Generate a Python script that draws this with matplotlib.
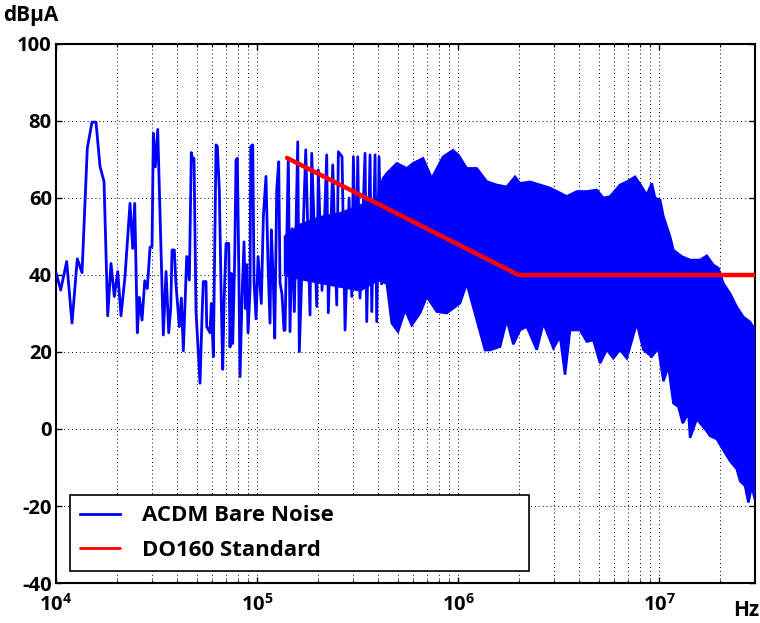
import numpy as np
import matplotlib
matplotlib.use('Agg')
import matplotlib.pyplot as plt
from matplotlib.ticker import LogLocator, NullFormatter

plt.rcParams['font.family'] = ['Open Sans', 'DejaVu Sans']
plt.rcParams['font.weight'] = 'bold'
plt.rcParams['axes.unicode_minus'] = False

# ACDM bare noise - sparse low-frequency part (Hz, dBuA)
sparse_freq = [1.000e4, 1.055e4, 1.130e4, 1.201e4, 1.276e4, 1.347e4, 1.431e4, 1.510e4,
               1.581e4, 1.655e4, 1.733e4, 1.808e4, 1.877e4, 1.950e4, 2.028e4, 2.105e4,
               2.204e4, 2.334e4, 2.407e4, 2.463e4, 2.538e4, 2.597e4, 2.679e4, 2.763e4,
               2.846e4, 2.936e4, 3.004e4, 3.049e4, 3.119e4, 3.206e4, 3.419e4, 3.526e4,
               3.637e4, 3.721e4, 3.777e4, 3.878e4, 3.954e4, 4.107e4, 4.202e4, 4.299e4,
               4.469e4, 4.605e4, 4.711e4, 4.787e4, 4.859e4, 4.971e4, 5.204e4, 5.325e4,
               5.405e4, 5.575e4, 5.620e4, 5.837e4, 5.924e4, 6.062e4, 6.252e4, 6.346e4,
               6.493e4, 6.643e4, 6.751e4, 6.852e4, 7.011e4, 7.231e4, 7.340e4, 7.449e4,
               7.570e4, 7.746e4, 7.862e4, 7.980e4, 8.110e4, 8.231e4, 8.422e4, 8.617e4,
               8.747e4, 8.889e4, 9.021e4, 9.230e4, 9.305e4, 9.520e4, 9.663e4, 9.886e4,
               1.012e5, 1.050e5, 1.075e5, 1.108e5, 1.134e5, 1.160e5, 1.178e5, 1.205e5,
               1.225e5, 1.253e5, 1.282e5, 1.301e5, 1.331e5, 1.362e5,
               # transition: spikes around the noise core
               1.378e5, 1.431e5, 1.459e5, 1.493e5, 1.533e5, 1.594e5, 1.623e5, 1.747e5,
               1.835e5, 1.871e5, 1.982e5, 2.018e5, 2.106e5, 2.222e5, 2.263e5, 2.380e5,
               2.492e5, 2.538e5, 2.648e5, 2.741e5, 2.870e5, 2.960e5, 3.015e5, 3.109e5,
               3.170e5, 3.253e5, 3.446e5, 3.514e5, 3.649e5, 3.721e5, 3.865e5, 3.939e5,
               4.046e5, 4.169e5]
sparse_db = [40.6, 36.1, 43.5, 27.5, 44.2, 40.6, 72.9, 79.7,
             79.7, 68.2, 64.3, 29.4, 43.0, 34.4, 40.9, 29.4,
             39.6, 58.6, 46.9, 58.6, 25.0, 34.2, 28.3, 38.5,
             36.5, 47.2, 47.4, 76.8, 68.1, 77.8, 24.4, 40.9,
             25.0, 31.3, 46.5, 46.5, 37.4, 26.6, 34.0, 20.3,
             44.8, 38.7, 71.8, 69.9, 70.3, 30.5, 11.9, 29.2,
             38.3, 38.3, 26.6, 25.0, 32.6, 18.8, 73.8, 73.4,
             62.1, 32.6, 15.5, 32.6, 48.2, 48.2, 21.3, 40.4,
             22.2, 44.8, 69.9, 70.3, 42.7, 13.6, 34.4, 48.6,
             31.3, 42.7, 25.0, 36.3, 73.4, 73.8, 38.2, 28.6,
             44.8, 32.6, 55.2, 65.6, 43.0, 27.5, 51.7, 38.0,
             23.6, 62.1, 69.4, 38.0, 35.0, 25.6,
             25.7, 70.3, 25.3, 52.0, 30.5, 74.6, 20.1, 72.5,
             29.6, 71.6, 31.8, 67.3, 36.0, 71.2, 30.2, 68.6,
             32.2, 72.0, 70.7, 25.7, 60.0, 34.4, 70.7, 38.0,
             70.7, 34.0, 71.6, 27.9, 71.2, 30.5, 71.2, 27.9,
             70.7, 37.8]

# dense part: upper and lower envelope of the noise band
upper_freq = [1.378e5, 1.636e5, 2.058e5, 2.588e5, 3.253e5, 4.000e5,
              4.237e5, 4.420e5, 4.955e5, 5.556e5, 5.972e5, 6.697e5, 7.398e5, 8.424e5,
              9.444e5, 1.003e6, 1.105e6, 1.239e6, 1.389e6, 1.557e6, 1.747e6, 1.921e6,
              2.034e6, 2.281e6, 2.559e6, 2.869e6, 3.218e6, 3.474e6, 3.895e6, 4.369e6,
              4.898e6, 5.284e6, 5.705e6, 6.397e6, 6.908e6, 7.597e6, 8.202e6, 8.686e6,
              9.197e6, 9.552e6, 1.012e7, 1.051e7, 1.134e7, 1.178e7, 1.297e7, 1.427e7,
              1.600e7, 1.727e7, 1.863e7, 1.972e7, 2.089e7, 2.255e7, 2.435e7, 2.627e7,
              2.836e7, 3.0e7]
upper_db = [50.0, 53.0, 55.0, 56.0, 58.0, 60.0,
            65.1, 66.4, 69.0, 67.7, 69.0, 70.3, 65.1, 70.7,
            72.4, 71.2, 67.7, 67.7, 64.3, 63.4, 62.9, 65.5,
            63.8, 64.2, 63.4, 62.6, 61.3, 60.4, 61.7, 61.7,
            62.1, 60.0, 60.4, 63.4, 64.2, 65.5, 62.9, 60.8,
            63.8, 60.0, 59.5, 55.2, 50.0, 46.5, 44.8, 43.9,
            43.9, 45.0, 42.6, 41.8, 37.8, 35.2, 31.7, 29.1,
            27.8, 25.7]

lower_freq = [1.378e5, 1.636e5, 2.058e5, 2.588e5, 3.253e5,
              4.000e5, 4.420e5, 4.679e5, 5.029e5, 5.449e5, 5.885e5, 6.471e5, 6.987e5,
              7.834e5, 8.786e5, 1.023e6, 1.105e6, 1.239e6, 1.362e6, 1.443e6, 1.618e6,
              1.747e6, 1.884e6, 2.034e6, 2.197e6, 2.464e6, 2.658e6, 2.980e6, 3.218e6,
              3.406e6, 3.607e6, 4.046e6, 4.369e6, 4.711e6, 5.087e6, 5.494e6, 5.925e6,
              6.397e6, 6.908e6, 7.748e6, 8.355e6, 9.197e6, 9.920e6, 1.051e7, 1.113e7,
              1.178e7, 1.247e7, 1.312e7, 1.399e7, 1.427e7, 1.540e7, 1.694e7, 1.794e7,
              1.937e7, 2.051e7, 2.255e7, 2.435e7, 2.529e7, 2.679e7, 2.782e7, 2.892e7,
              3.0e7]
lower_db = [40.0, 39.0, 38.0, 37.0, 36.0,
            38.7, 37.8, 27.5, 25.3, 30.9, 27.0, 30.1, 34.4,
            30.5, 30.1, 32.7, 37.8, 28.3, 20.5, 20.5, 21.4,
            28.3, 22.0, 25.7, 26.6, 20.6, 27.5, 21.0, 24.0,
            14.1, 25.7, 25.7, 22.7, 23.1, 17.1, 20.6, 18.4,
            20.6, 18.4, 27.5, 20.6, 18.8, 21.0, 12.4, 16.3,
            6.7, 5.8, 1.5, 4.2, -2.3, 2.6, 0.0, -1.8,
            -2.6, -4.8, -8.3, -10.4, -13.5, -14.8, -19.1, -14.8,
            -18.4]

# DO160 limit line
std_freq = [1.41e5, 2.0e6, 3.0e7]
std_db = [70.4, 40.0, 40.0]

blue = '#0000ff'
red = '#ff0000'

fig = plt.figure(figsize=(7.6, 6.23), dpi=100)
ax = fig.add_axes([0.0737, 0.0642, 0.9197, 0.8652])

ax.plot(sparse_freq, sparse_db, color=blue, lw=2.0, label='ACDM Bare Noise', zorder=3)
poly_f = np.concatenate([upper_freq, lower_freq[::-1]])
poly_v = np.concatenate([upper_db, lower_db[::-1]])
ax.fill(poly_f, poly_v, color=blue, lw=1.8, zorder=3)
ax.plot(std_freq, std_db, color=red, lw=3.2, label='DO160 Standard', zorder=4,
        solid_capstyle='round')

ax.set_xscale('log')
ax.set_xlim(1e4, 3e7)
ax.set_ylim(-40, 100)
ax.set_yticks(np.arange(-40, 101, 20))
ax.xaxis.set_major_locator(LogLocator(base=10, numticks=10))
ax.xaxis.set_minor_locator(LogLocator(base=10, subs=np.arange(2, 10), numticks=20))
ax.xaxis.set_minor_formatter(NullFormatter())

ax.grid(True, which='major', color='black', ls=(0, (1, 3)), lw=0.7)
ax.grid(True, which='minor', axis='x', color='black', ls=(0, (1, 3)), lw=0.7)
ax.tick_params(which='both', direction='in', top=True, right=True)
ax.tick_params(which='major', length=4, width=1, labelsize=14.5)
ax.tick_params(axis='y', which='major', pad=3)
ax.tick_params(axis='x', which='major', pad=8)
ax.tick_params(which='minor', length=2.5, width=0.8)
for s in ax.spines.values():
    s.set_linewidth(1.5)
for lbl in ax.get_xticklabels() + ax.get_yticklabels():
    lbl.set_fontweight('bold')

fig.text(0.004, 0.975, 'dBμA', fontsize=15, fontweight='bold', va='center', ha='left')
fig.text(0.999, 0.02, 'Hz', fontsize=15, fontweight='bold', va='center', ha='right')

leg = ax.legend(loc='lower left', bbox_to_anchor=(0.02, 0.022, 0.657, 0.143), mode='expand',
                borderaxespad=0, fancybox=False, edgecolor='black', framealpha=1,
                prop={'size': 16, 'weight': 'bold'}, handlelength=1.8, handletextpad=1.0,
                labelspacing=0.62, borderpad=0.45)
leg.get_frame().set_linewidth(1.2)
for h in leg.get_lines():
    h.set_linewidth(2)

fig.savefig('out.png', dpi=100)
